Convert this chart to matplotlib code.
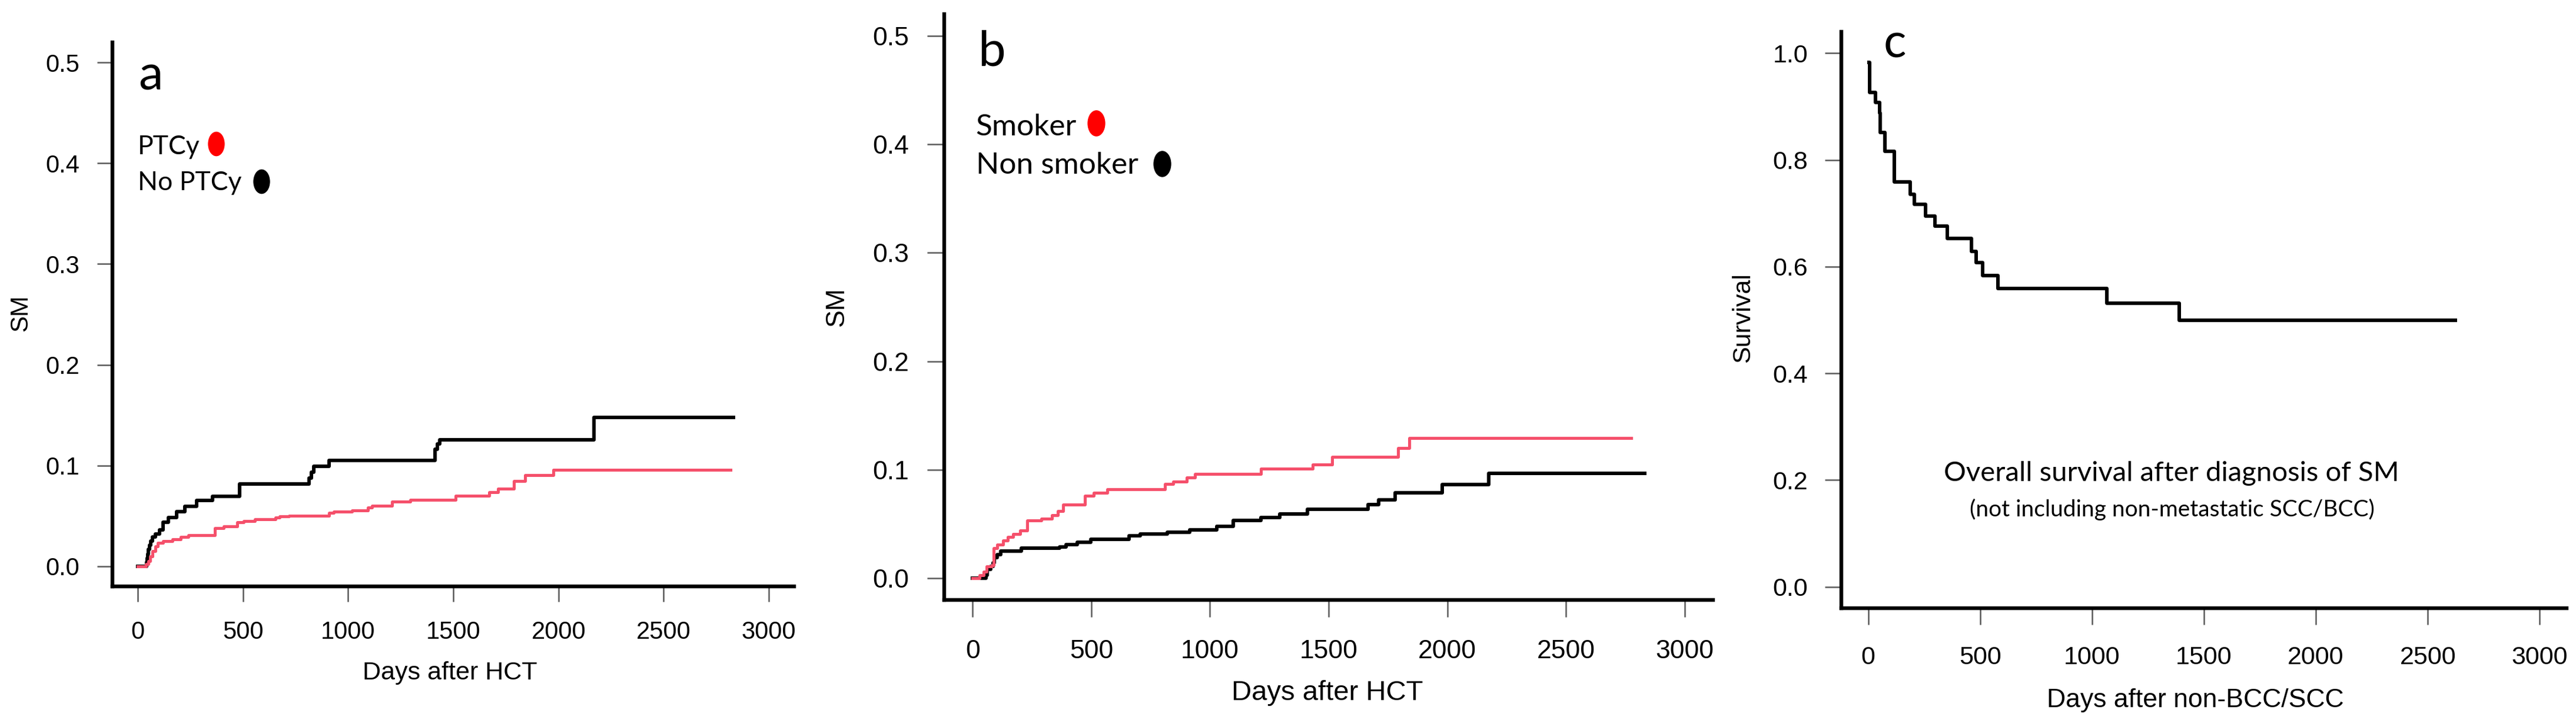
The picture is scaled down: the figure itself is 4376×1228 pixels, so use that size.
import numpy as np
import matplotlib
matplotlib.use('Agg')
import matplotlib.pyplot as plt
from matplotlib.path import Path

# panel a: cumulative incidence of SM, PTCy vs no PTCy
a_noptcy_days = [0, 42, 45, 48, 52, 56, 62, 70, 85, 105, 120, 146, 184, 223, 280, 355,
                 483, 815, 825, 836, 911, 1414, 1424, 1435, 2168, 2831]
a_noptcy_sm = [0, 0.004, 0.008, 0.012, 0.017, 0.021, 0.025, 0.029, 0.032, 0.036, 0.0436,
               0.0485, 0.0543, 0.0592, 0.0651, 0.0694, 0.0817, 0.0875, 0.0934, 0.0993,
               0.1051, 0.1159, 0.1217, 0.1256, 0.1475, 0.1475]
a_ptcy_days = [0, 40, 50, 60, 70, 85, 95, 120, 165, 205, 240, 366, 409, 473, 505, 558,
               655, 676, 719, 911, 933, 1018, 1093, 1114, 1210, 1296, 1510, 1670, 1713,
               1788, 1841, 1976, 2818]
a_ptcy_sm = [0, 0.002, 0.005, 0.010, 0.015, 0.020, 0.023, 0.025, 0.027, 0.029, 0.031,
             0.0377, 0.0397, 0.0436, 0.0451, 0.0465, 0.0485, 0.0498, 0.0504, 0.0533,
             0.0543, 0.0553, 0.0582, 0.0602, 0.0641, 0.0660, 0.0699, 0.0733, 0.0768,
             0.0846, 0.0905, 0.0959, 0.0959]

# panel b: smoker vs non smoker
b_nonsmk_days = [0, 55, 62, 75, 85, 92, 103, 119, 205, 366, 394, 440, 497, 659, 705, 821,
                 914, 1029, 1099, 1214, 1295, 1411, 1665, 1712, 1781, 1978, 2174, 2833]
b_nonsmk_sm = [0, 0.003, 0.008, 0.011, 0.014, 0.019, 0.022, 0.025, 0.0275, 0.029, 0.031,
               0.033, 0.036, 0.039, 0.041, 0.0425, 0.0446, 0.0476, 0.053, 0.056, 0.0595,
               0.0637, 0.068, 0.072, 0.0786, 0.0862, 0.0969, 0.0969]
b_smk_days = [0, 28, 45, 58, 80, 89, 103, 127, 149, 170, 201, 231, 289, 335, 358, 382,
              474, 509, 567, 810, 844, 902, 937, 1214, 1434, 1515, 1793, 1839, 2776]
b_smk_sm = [0, 0.003, 0.006, 0.011, 0.012, 0.028, 0.031, 0.035, 0.038, 0.041, 0.044,
            0.053, 0.055, 0.058, 0.062, 0.068, 0.076, 0.079, 0.082, 0.087, 0.089, 0.093,
            0.096, 0.101, 0.105, 0.112, 0.120, 0.129, 0.129]

# panel c: overall survival after diagnosis of SM
c_days = [3, 6, 33, 51, 53, 75, 117, 187, 207, 257, 297, 354, 461, 481, 510, 579,
          1067, 1389, 2624]
c_surv = [0.983, 0.926, 0.908, 0.888, 0.851, 0.816, 0.759, 0.735, 0.717, 0.695, 0.676,
          0.653, 0.628, 0.608, 0.583, 0.559, 0.531, 0.499, 0.499]

x_ticks = [0, 500, 1000, 1500, 2000, 2500, 3000]
sm_ticks = [0.0, 0.1, 0.2, 0.3, 0.4, 0.5]
surv_ticks = [0.0, 0.2, 0.4, 0.6, 0.8, 1.0]

RED = '#F5506B'
W, H = 4376, 1228
plt.rcParams['font.family'] = ['Liberation Sans', 'DejaVu Sans']
LEG_FONT = ['Lato', 'DejaVu Sans']

fig = plt.figure(figsize=(W / 100, H / 100), dpi=100)


def rect(l, t, r, b):
    return [l / W, 1 - b / H, (r - l) / W, (b - t) / H]


def style(ax, ylim, yticks, fs, tlen, xpad, ypad):
    ax.set_xlim(-120, 3120)
    ax.set_ylim(*ylim)
    for s in ['top', 'right']:
        ax.spines[s].set_visible(False)
    for s in ['left', 'bottom']:
        ax.spines[s].set_linewidth(4.6)
    ax.set_xticks(x_ticks)
    ax.set_yticks(yticks)
    ax.set_yticklabels(['%.1f' % v for v in yticks])
    ax.tick_params(direction='out', length=tlen, width=1.8, color='#5a5a5a',
                   labelsize=fs)
    ax.tick_params(axis='x', pad=xpad)
    ax.tick_params(axis='y', pad=ypad)


circ = Path.unit_circle()
ellipse = Path(circ.vertices * np.array([0.67, 1.0]), circ.codes)


def key_dot(ax, x, y, color, size):
    ax.plot([x], [y], transform=ax.transAxes, marker=ellipse, markersize=size,
            color=color, linestyle='none', clip_on=False)


# ---- panel a
ax1 = fig.add_axes(rect(191, 72, 1349, 996))
style(ax1, (-0.02, 0.52), sm_ticks, 30, 19, 23, 21)
ax1.plot(a_noptcy_days, a_noptcy_sm, drawstyle='steps-post', color='black', lw=4.3)
ax1.plot(a_ptcy_days, a_ptcy_sm, drawstyle='steps-post', color=RED, lw=3.6)
ax1.text(0.038, 0.913, 'a', transform=ax1.transAxes, fontsize=60, family=LEG_FONT,
         va='baseline')
ax1.text(0.037, 0.794, 'PTCy', transform=ax1.transAxes, fontsize=32, family=LEG_FONT,
         va='baseline')
ax1.text(0.037, 0.728, 'No PTCy', transform=ax1.transAxes, fontsize=32,
         family=LEG_FONT, va='baseline')
key_dot(ax1, 0.152, 0.814, '#FF0000', 29)
key_dot(ax1, 0.2185, 0.745, 'black', 29)
fig.text(764 / W, 1 - 1143 / H, 'Days after HCT', fontsize=31, ha='center', va='center')
fig.text(35 / W, 1 - 532 / H, 'SM', fontsize=30, rotation=90, ha='center', va='center')

# ---- panel b
ax2 = fig.add_axes(rect(1604, 24, 2910, 1019))
style(ax2, (-0.02, 0.52), sm_ticks, 32, 21, 27, 22)
ax2.plot(b_nonsmk_days, b_nonsmk_sm, drawstyle='steps-post', color='black', lw=4.3)
ax2.plot(b_smk_days, b_smk_sm, drawstyle='steps-post', color=RED, lw=3.6)
ax2.text(0.044, 0.9116, 'b', transform=ax2.transAxes, fontsize=60, family=LEG_FONT,
         va='baseline')
ax2.text(0.041, 0.793, 'Smoker', transform=ax2.transAxes, fontsize=37,
         family=LEG_FONT, va='baseline')
ax2.text(0.041, 0.7276, 'Non smoker', transform=ax2.transAxes, fontsize=37,
         family=LEG_FONT, va='baseline')
key_dot(ax2, 0.1975, 0.814, '#FF0000', 31)
key_dot(ax2, 0.2833, 0.745, 'black', 31)
fig.text(2255 / W, 1 - 1177 / H, 'Days after HCT', fontsize=34, ha='center',
         va='center')
fig.text(1421 / W, 1 - 521 / H, 'SM', fontsize=32, rotation=90, ha='center',
         va='center')

# ---- panel c
ax3 = fig.add_axes(rect(3128, 54, 4360, 1033))
style(ax3, (-0.04, 1.04), surv_ticks, 31, 20, 26, 21)
ax3.plot(c_days, c_surv, drawstyle='steps-post', color='black', lw=4.3)
ax3.text(0.0584, 0.956, 'c', transform=ax3.transAxes, fontsize=58, family=LEG_FONT,
         va='baseline')
ax3.text(0.455, 0.234, 'Overall survival after diagnosis of SM', transform=ax3.transAxes,
         fontsize=34, family=LEG_FONT, ha='center', va='center')
ax3.text(0.456, 0.1716, '(not including non-metastatic SCC/BCC)',
         transform=ax3.transAxes, fontsize=28, family=LEG_FONT, ha='center',
         va='center')
fig.text(3729 / W, 1 - 1190 / H, 'Days after non-BCC/SCC', fontsize=32, ha='center',
         va='center')
fig.text(2961 / W, 1 - 540 / H, 'Survival', fontsize=31, rotation=90, ha='center',
         va='center')

fig.savefig('out.png', dpi=100, facecolor='white')
